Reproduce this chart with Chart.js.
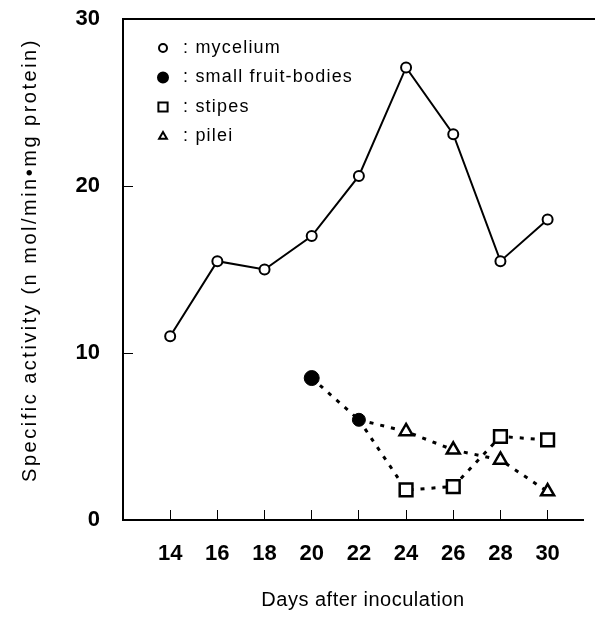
<!DOCTYPE html>
<html>
<head>
<meta charset="utf-8">
<script src="https://cdn.jsdelivr.net/npm/chart.js@4.4.0/dist/chart.umd.min.js"></script>
<style>
  html, body { margin: 0; padding: 0; background: #fff; }
  #wrap { width: 595px; height: 638px; position: relative; }
</style>
</head>
<body>
<div id="wrap"><canvas id="myChart" width="595" height="638"></canvas></div>
<script>
// values
var days = [14, 16, 18, 20, 22, 24, 26, 28, 30];
var mycelium = [11, 15.5, 15, 17, 20.6, 27.1, 23.1, 15.5, 18];
var fruitDays = [20, 22];
var fruitBodies = [8.5, 6];
var partDays = [22, 24, 26, 28, 30];
var stipes = [6, 1.8, 2.0, 5.0, 4.8];
var pilei = [6, 5.3, 4.2, 3.6, 1.7];
var yTicks = [0, 10, 20, 30];

var xTitle = 'Days after inoculation';
var yTitle = 'Specific activity (n mol/min\u2022mg protein)';

var legendItems = [
  { text: ': mycelium', style: 'circle', fill: false, r: 4 },
  { text: ': small fruit-bodies', style: 'circle', fill: true, r: 5 },
  { text: ': stipes', style: 'rect', fill: false, r: 6.5 },
  { text: ': pilei', style: 'triangle', fill: false, r: 4.5 }
];

var FONT = '"Liberation Sans", Arial, sans-serif';

function pts(xs, ys) {
  return xs.map(function (x, i) { return { x: x, y: ys[i] }; });
}

// legend and axis titles drawn by hand (letter spacing)
var extras = {
  id: 'extras',
  afterDraw: function (chart) {
    var c = chart.ctx, a = chart.chartArea;
    c.save();
    // top line running off to the right
    c.strokeStyle = '#000';
    c.lineWidth = 2;
    c.beginPath();
    c.moveTo(a.left, a.top);
    c.lineTo(chart.width, a.top);
    c.stroke();

    // legend
    c.font = '18px ' + FONT;
    c.letterSpacing = '1.2px';
    c.textBaseline = 'middle';
    legendItems.forEach(function (it, i) {
      var y = 48 + i * 29.5;
      c.strokeStyle = '#000';
      c.fillStyle = it.fill ? '#000' : '#fff';
      c.lineWidth = 2;
      Chart.helpers.drawPoint(c, { pointStyle: it.style, radius: it.r, borderWidth: 2 }, 163, y);
      c.fillStyle = '#000';
      c.fillText(it.text, 183, y);
    });

    // x title
    c.letterSpacing = '0.5px';
    c.font = '20px ' + FONT;
    c.textAlign = 'center';
    c.fillText(xTitle, 363, 600);

    // y title
    c.letterSpacing = '2.5px';
    c.translate(30, 260);
    c.rotate(-Math.PI / 2);
    c.fillText(yTitle, 0, 0);
    c.restore();
  }
};

var ctx = document.getElementById('myChart');
var myChart = new Chart(ctx, {
  type: 'scatter',
  data: {
    datasets: [
      {
        label: 'mycelium',
        data: pts(days, mycelium),
        showLine: true,
        borderColor: '#000',
        borderWidth: 2,
        pointStyle: 'circle',
        pointRadius: 5,
        pointBackgroundColor: '#fff',
        pointBorderColor: '#000',
        pointBorderWidth: 2
      },
      {
        label: 'stipes',
        data: pts(partDays, stipes),
        showLine: true,
        borderColor: '#000',
        borderWidth: 3,
        borderDash: [4, 7],
        pointStyle: 'rect',
        pointRadius: [0, 9, 9, 9, 9],
        pointBackgroundColor: '#fff',
        pointBorderColor: '#000',
        pointBorderWidth: 2.5
      },
      {
        label: 'pilei',
        data: pts(partDays, pilei),
        showLine: true,
        borderColor: '#000',
        borderWidth: 3,
        borderDash: [4, 7],
        pointStyle: 'triangle',
        pointRadius: [0, 7.5, 7.5, 7.5, 7.5],
        pointBackgroundColor: '#fff',
        pointBorderColor: '#000',
        pointBorderWidth: 2.5
      },
      {
        label: 'small fruit-bodies',
        data: pts(fruitDays, fruitBodies),
        showLine: true,
        borderColor: '#000',
        borderWidth: 3,
        borderDash: [4, 7],
        pointStyle: 'circle',
        pointRadius: [7.5, 6.5],
        pointBackgroundColor: '#000',
        pointBorderColor: '#000',
        pointBorderWidth: 1
      }
    ]
  },
  options: {
    responsive: false,
    animation: false,
    layout: { padding: { top: 19, right: 12, left: 0, bottom: 0 } },
    plugins: {
      legend: { display: false },
      tooltip: { enabled: false }
    },
    scales: {
      x: {
        type: 'linear',
        min: 12,
        max: 31.5,
        afterBuildTicks: function (axis) {
          axis.ticks = days.map(function (d) { return { value: d }; });
        },
        afterFit: function (axis) {
          axis.height = 118;
          axis.paddingLeft = 0;
          axis.paddingRight = 0;
        },
        grid: {
          drawOnChartArea: false,
          drawTicks: true,
          tickLength: -10,
          color: '#000',
          lineWidth: 1
        },
        border: { display: true, color: '#000', width: 2 },
        ticks: {
          color: '#000',
          padding: 31,
          maxRotation: 0,
          font: { family: FONT, size: 22, weight: 'bold' }
        }
      },
      y: {
        min: 0,
        max: 30,
        afterBuildTicks: function (axis) {
          axis.ticks = yTicks.map(function (v) { return { value: v }; });
        },
        afterFit: function (axis) {
          axis.width = 123;
          axis.paddingTop = 0;
          axis.paddingBottom = 0;
        },
        grid: {
          drawOnChartArea: false,
          drawTicks: true,
          tickLength: -10,
          color: function (c) { return (c.tick.value === 0 || c.tick.value === 30) ? 'rgba(0,0,0,0)' : '#000'; },
          lineWidth: 1
        },
        border: { display: true, color: '#000', width: 2 },
        ticks: {
          color: '#000',
          padding: 33,
          font: { family: FONT, size: 22, weight: 'bold' }
        }
      }
    }
  },
  plugins: [extras]
});
</script>
</body>
</html>
